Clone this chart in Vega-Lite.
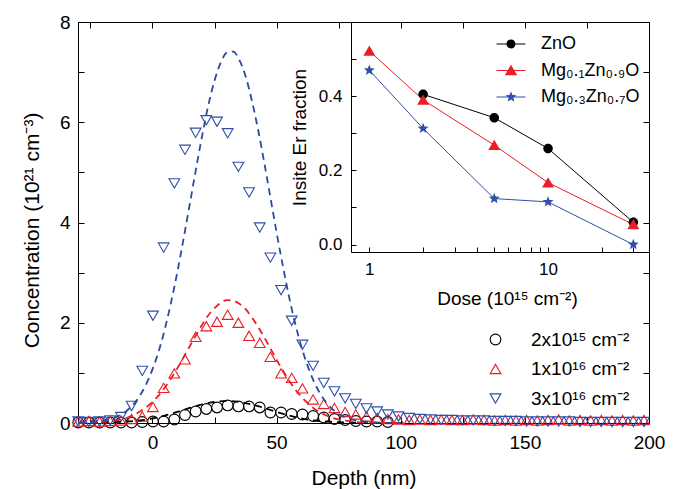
{
  "$schema": "https://vega.github.io/schema/vega-lite/v6.json",
  "width": 571,
  "height": 401,
  "autosize": {"type": "none"},
  "padding": {"left": 78, "top": 22, "right": 32, "bottom": 66},
  "config": {
    "font": "Liberation Sans",
    "view": {"stroke": "black", "strokeWidth": 1},
    "axis": {"grid": false, "domainColor": "black", "tickColor": "black", "labelColor": "black", "titleColor": "black", "titleFontWeight": "normal", "domainWidth": 1, "tickWidth": 1, "labelFont": "Liberation Sans", "titleFont": "Liberation Sans"},
    "legend": {"labelColor": "black", "labelFont": "Liberation Sans"}
  },
  "datasets": {
    "pts": [
      {"d": -29.9, "c": 0.01, "s": "2e15"}, {"d": -25.6, "c": 0.01, "s": "2e15"}, {"d": -21.3, "c": 0.01, "s": "2e15"}, {"d": -17.0, "c": 0.01, "s": "2e15"}, {"d": -12.7, "c": 0.01, "s": "2e15"}, {"d": -8.4, "c": 0.01, "s": "2e15"}, {"d": -4.1, "c": 0.02, "s": "2e15"}, {"d": 0.2, "c": 0.03, "s": "2e15"}, {"d": 4.5, "c": 0.03, "s": "2e15"}, {"d": 8.8, "c": 0.07, "s": "2e15"}, {"d": 13.1, "c": 0.16, "s": "2e15"}, {"d": 17.4, "c": 0.23, "s": "2e15"}, {"d": 21.7, "c": 0.28, "s": "2e15"}, {"d": 26.0, "c": 0.31, "s": "2e15"}, {"d": 30.3, "c": 0.35, "s": "2e15"}, {"d": 34.6, "c": 0.33, "s": "2e15"}, {"d": 38.9, "c": 0.33, "s": "2e15"}, {"d": 43.2, "c": 0.31, "s": "2e15"}, {"d": 47.5, "c": 0.21, "s": "2e15"}, {"d": 51.8, "c": 0.21, "s": "2e15"}, {"d": 56.1, "c": 0.18, "s": "2e15"}, {"d": 60.4, "c": 0.17, "s": "2e15"}, {"d": 64.7, "c": 0.14, "s": "2e15"}, {"d": 69.0, "c": 0.11, "s": "2e15"}, {"d": 73.3, "c": 0.08, "s": "2e15"}, {"d": 77.6, "c": 0.06, "s": "2e15"}, {"d": 81.9, "c": 0.04, "s": "2e15"}, {"d": 86.2, "c": 0.03, "s": "2e15"}, {"d": 90.5, "c": 0.03, "s": "2e15"}, {"d": 94.8, "c": 0.02, "s": "2e15"},
      {"d": -29.9, "c": 0.03, "s": "1e16"}, {"d": -25.6, "c": 0.04, "s": "1e16"}, {"d": -21.3, "c": 0.03, "s": "1e16"}, {"d": -17.0, "c": 0.04, "s": "1e16"}, {"d": -12.7, "c": 0.05, "s": "1e16"}, {"d": -8.4, "c": 0.08, "s": "1e16"}, {"d": -4.1, "c": 0.13, "s": "1e16"}, {"d": 0.2, "c": 0.32, "s": "1e16"}, {"d": 4.5, "c": 0.70, "s": "1e16"}, {"d": 8.8, "c": 0.99, "s": "1e16"}, {"d": 13.1, "c": 1.27, "s": "1e16"}, {"d": 17.4, "c": 1.72, "s": "1e16"}, {"d": 21.7, "c": 1.93, "s": "1e16"}, {"d": 26.0, "c": 2.02, "s": "1e16"}, {"d": 30.3, "c": 2.16, "s": "1e16"}, {"d": 34.6, "c": 2.00, "s": "1e16"}, {"d": 38.9, "c": 1.74, "s": "1e16"}, {"d": 43.2, "c": 1.60, "s": "1e16"}, {"d": 47.5, "c": 1.32, "s": "1e16"}, {"d": 51.8, "c": 0.99, "s": "1e16"}, {"d": 56.1, "c": 0.90, "s": "1e16"}, {"d": 60.4, "c": 0.69, "s": "1e16"}, {"d": 64.7, "c": 0.47, "s": "1e16"}, {"d": 69.0, "c": 0.38, "s": "1e16"}, {"d": 73.3, "c": 0.30, "s": "1e16"}, {"d": 77.6, "c": 0.22, "s": "1e16"}, {"d": 81.9, "c": 0.17, "s": "1e16"}, {"d": 86.2, "c": 0.13, "s": "1e16"}, {"d": 90.5, "c": 0.10, "s": "1e16"}, {"d": 94.8, "c": 0.08, "s": "1e16"}, {"d": 99.1, "c": 0.07, "s": "1e16"}, {"d": 103.4, "c": 0.06, "s": "1e16"}, {"d": 107.7, "c": 0.07, "s": "1e16"}, {"d": 112.0, "c": 0.06, "s": "1e16"}, {"d": 116.3, "c": 0.07, "s": "1e16"}, {"d": 120.6, "c": 0.06, "s": "1e16"}, {"d": 124.9, "c": 0.06, "s": "1e16"}, {"d": 129.2, "c": 0.07, "s": "1e16"}, {"d": 133.5, "c": 0.06, "s": "1e16"}, {"d": 137.8, "c": 0.05, "s": "1e16"}, {"d": 142.1, "c": 0.06, "s": "1e16"}, {"d": 146.4, "c": 0.05, "s": "1e16"}, {"d": 150.7, "c": 0.06, "s": "1e16"}, {"d": 155.0, "c": 0.05, "s": "1e16"}, {"d": 159.3, "c": 0.06, "s": "1e16"}, {"d": 163.6, "c": 0.07, "s": "1e16"}, {"d": 167.9, "c": 0.05, "s": "1e16"}, {"d": 172.2, "c": 0.06, "s": "1e16"}, {"d": 176.5, "c": 0.05, "s": "1e16"}, {"d": 180.8, "c": 0.06, "s": "1e16"}, {"d": 185.1, "c": 0.05, "s": "1e16"}, {"d": 189.4, "c": 0.06, "s": "1e16"}, {"d": 193.7, "c": 0.05, "s": "1e16"}, {"d": 198.0, "c": 0.06, "s": "1e16"},
      {"d": -29.9, "c": 0.03, "s": "3e16"}, {"d": -25.6, "c": 0.02, "s": "3e16"}, {"d": -21.3, "c": 0.03, "s": "3e16"}, {"d": -17.0, "c": 0.05, "s": "3e16"}, {"d": -12.7, "c": 0.12, "s": "3e16"}, {"d": -8.4, "c": 0.34, "s": "3e16"}, {"d": -4.1, "c": 1.04, "s": "3e16"}, {"d": 0.2, "c": 2.14, "s": "3e16"}, {"d": 4.5, "c": 3.50, "s": "3e16"}, {"d": 8.8, "c": 4.78, "s": "3e16"}, {"d": 13.1, "c": 5.45, "s": "3e16"}, {"d": 17.4, "c": 5.79, "s": "3e16"}, {"d": 21.7, "c": 6.04, "s": "3e16"}, {"d": 26.0, "c": 6.01, "s": "3e16"}, {"d": 30.3, "c": 5.78, "s": "3e16"}, {"d": 34.6, "c": 5.11, "s": "3e16"}, {"d": 38.9, "c": 4.60, "s": "3e16"}, {"d": 43.2, "c": 3.90, "s": "3e16"}, {"d": 47.5, "c": 3.30, "s": "3e16"}, {"d": 51.8, "c": 2.65, "s": "3e16"}, {"d": 56.1, "c": 2.04, "s": "3e16"}, {"d": 60.4, "c": 1.56, "s": "3e16"}, {"d": 64.7, "c": 1.14, "s": "3e16"}, {"d": 69.0, "c": 0.80, "s": "3e16"}, {"d": 73.3, "c": 0.63, "s": "3e16"}, {"d": 77.6, "c": 0.49, "s": "3e16"}, {"d": 81.9, "c": 0.38, "s": "3e16"}, {"d": 86.2, "c": 0.29, "s": "3e16"}, {"d": 90.5, "c": 0.23, "s": "3e16"}, {"d": 94.8, "c": 0.17, "s": "3e16"}, {"d": 99.1, "c": 0.13, "s": "3e16"}, {"d": 103.4, "c": 0.10, "s": "3e16"}, {"d": 107.7, "c": 0.08, "s": "3e16"}, {"d": 112.0, "c": 0.07, "s": "3e16"}, {"d": 116.3, "c": 0.06, "s": "3e16"}, {"d": 120.6, "c": 0.06, "s": "3e16"}, {"d": 124.9, "c": 0.05, "s": "3e16"}, {"d": 129.2, "c": 0.05, "s": "3e16"}, {"d": 133.5, "c": 0.05, "s": "3e16"}, {"d": 137.8, "c": 0.04, "s": "3e16"}, {"d": 142.1, "c": 0.04, "s": "3e16"}, {"d": 146.4, "c": 0.04, "s": "3e16"}, {"d": 150.7, "c": 0.03, "s": "3e16"}, {"d": 155.0, "c": 0.03, "s": "3e16"}, {"d": 159.3, "c": 0.03, "s": "3e16"}, {"d": 163.6, "c": 0.03, "s": "3e16"}, {"d": 167.9, "c": 0.03, "s": "3e16"}, {"d": 172.2, "c": 0.02, "s": "3e16"}, {"d": 176.5, "c": 0.02, "s": "3e16"}, {"d": 180.8, "c": 0.02, "s": "3e16"}, {"d": 185.1, "c": 0.02, "s": "3e16"}, {"d": 189.4, "c": 0.02, "s": "3e16"}, {"d": 193.7, "c": 0.02, "s": "3e16"}, {"d": 198.0, "c": 0.02, "s": "3e16"}
    ],
    "fit": [
      {"d": -30, "c": 0.0, "s": "2e15"}, {"d": -20, "c": 0.01, "s": "2e15"}, {"d": -10, "c": 0.03, "s": "2e15"}, {"d": -5, "c": 0.05, "s": "2e15"}, {"d": 0, "c": 0.09, "s": "2e15"}, {"d": 5, "c": 0.15, "s": "2e15"}, {"d": 10, "c": 0.22, "s": "2e15"}, {"d": 15, "c": 0.30, "s": "2e15"}, {"d": 20, "c": 0.37, "s": "2e15"}, {"d": 25, "c": 0.42, "s": "2e15"}, {"d": 30, "c": 0.44, "s": "2e15"}, {"d": 35, "c": 0.42, "s": "2e15"}, {"d": 40, "c": 0.37, "s": "2e15"}, {"d": 45, "c": 0.30, "s": "2e15"}, {"d": 50, "c": 0.22, "s": "2e15"}, {"d": 55, "c": 0.15, "s": "2e15"}, {"d": 60, "c": 0.09, "s": "2e15"}, {"d": 65, "c": 0.05, "s": "2e15"}, {"d": 70, "c": 0.03, "s": "2e15"}, {"d": 80, "c": 0.01, "s": "2e15"}, {"d": 100, "c": 0.0, "s": "2e15"},
      {"d": -30, "c": 0.0, "s": "1e16"}, {"d": -20, "c": 0.02, "s": "1e16"}, {"d": -15, "c": 0.05, "s": "1e16"}, {"d": -10, "c": 0.11, "s": "1e16"}, {"d": -5, "c": 0.23, "s": "1e16"}, {"d": 0, "c": 0.42, "s": "1e16"}, {"d": 2.5, "c": 0.55, "s": "1e16"}, {"d": 5, "c": 0.71, "s": "1e16"}, {"d": 7.5, "c": 0.89, "s": "1e16"}, {"d": 10, "c": 1.09, "s": "1e16"}, {"d": 12.5, "c": 1.31, "s": "1e16"}, {"d": 15, "c": 1.53, "s": "1e16"}, {"d": 17.5, "c": 1.75, "s": "1e16"}, {"d": 20, "c": 1.96, "s": "1e16"}, {"d": 22.5, "c": 2.15, "s": "1e16"}, {"d": 25, "c": 2.29, "s": "1e16"}, {"d": 27.5, "c": 2.40, "s": "1e16"}, {"d": 30, "c": 2.45, "s": "1e16"}, {"d": 32.5, "c": 2.44, "s": "1e16"}, {"d": 35, "c": 2.38, "s": "1e16"}, {"d": 37.5, "c": 2.27, "s": "1e16"}, {"d": 40, "c": 2.11, "s": "1e16"}, {"d": 42.5, "c": 1.92, "s": "1e16"}, {"d": 45, "c": 1.71, "s": "1e16"}, {"d": 47.5, "c": 1.49, "s": "1e16"}, {"d": 50, "c": 1.26, "s": "1e16"}, {"d": 52.5, "c": 1.05, "s": "1e16"}, {"d": 55, "c": 0.85, "s": "1e16"}, {"d": 57.5, "c": 0.67, "s": "1e16"}, {"d": 60, "c": 0.52, "s": "1e16"}, {"d": 62.5, "c": 0.40, "s": "1e16"}, {"d": 65, "c": 0.29, "s": "1e16"}, {"d": 70, "c": 0.15, "s": "1e16"}, {"d": 75, "c": 0.07, "s": "1e16"}, {"d": 80, "c": 0.03, "s": "1e16"}, {"d": 85, "c": 0.01, "s": "1e16"}, {"d": 100, "c": 0.0, "s": "1e16"},
      {"d": -30, "c": 0.01, "s": "3e16"}, {"d": -20, "c": 0.04, "s": "3e16"}, {"d": -15, "c": 0.11, "s": "3e16"}, {"d": -10, "c": 0.26, "s": "3e16"}, {"d": -5, "c": 0.55, "s": "3e16"}, {"d": 0, "c": 1.07, "s": "3e16"}, {"d": 2.5, "c": 1.43, "s": "3e16"}, {"d": 5, "c": 1.88, "s": "3e16"}, {"d": 7.5, "c": 2.41, "s": "3e16"}, {"d": 10, "c": 3.01, "s": "3e16"}, {"d": 12.5, "c": 3.67, "s": "3e16"}, {"d": 15, "c": 4.36, "s": "3e16"}, {"d": 17.5, "c": 5.06, "s": "3e16"}, {"d": 20, "c": 5.73, "s": "3e16"}, {"d": 22.5, "c": 6.34, "s": "3e16"}, {"d": 25, "c": 6.83, "s": "3e16"}, {"d": 27.5, "c": 7.19, "s": "3e16"}, {"d": 30, "c": 7.39, "s": "3e16"}, {"d": 32.5, "c": 7.41, "s": "3e16"}, {"d": 35, "c": 7.24, "s": "3e16"}, {"d": 37.5, "c": 6.92, "s": "3e16"}, {"d": 40, "c": 6.44, "s": "3e16"}, {"d": 42.5, "c": 5.86, "s": "3e16"}, {"d": 45, "c": 5.20, "s": "3e16"}, {"d": 47.5, "c": 4.50, "s": "3e16"}, {"d": 50, "c": 3.80, "s": "3e16"}, {"d": 52.5, "c": 3.14, "s": "3e16"}, {"d": 55, "c": 2.52, "s": "3e16"}, {"d": 57.5, "c": 1.98, "s": "3e16"}, {"d": 60, "c": 1.52, "s": "3e16"}, {"d": 62.5, "c": 1.14, "s": "3e16"}, {"d": 65, "c": 0.83, "s": "3e16"}, {"d": 67.5, "c": 0.59, "s": "3e16"}, {"d": 70, "c": 0.41, "s": "3e16"}, {"d": 75, "c": 0.18, "s": "3e16"}, {"d": 80, "c": 0.075, "s": "3e16"}, {"d": 85, "c": 0.03, "s": "3e16"}, {"d": 90, "c": 0.01, "s": "3e16"}, {"d": 100, "c": 0.0, "s": "3e16"}
    ],
    "ins": [
      {"dose": 2, "f": 0.405, "m": "ZnO"}, {"dose": 5, "f": 0.342, "m": "ZnO"}, {"dose": 10, "f": 0.259, "m": "ZnO"}, {"dose": 30, "f": 0.060, "m": "ZnO"},
      {"dose": 1, "f": 0.522, "m": "Mg0.1"}, {"dose": 2, "f": 0.390, "m": "Mg0.1"}, {"dose": 5, "f": 0.268, "m": "Mg0.1"}, {"dose": 10, "f": 0.167, "m": "Mg0.1"}, {"dose": 30, "f": 0.054, "m": "Mg0.1"},
      {"dose": 1, "f": 0.470, "m": "Mg0.3"}, {"dose": 2, "f": 0.313, "m": "Mg0.3"}, {"dose": 5, "f": 0.124, "m": "Mg0.3"}, {"dose": 10, "f": 0.115, "m": "Mg0.3"}, {"dose": 30, "f": 0.0, "m": "Mg0.3"}
    ]
  },
  "layer": [
    {
      "layer": [
        {
          "data": {"name": "pts"},
          "mark": {"type": "point", "filled": false, "size": 115, "strokeWidth": 1.1, "opacity": 1},
          "encoding": {
            "x": {"field": "d", "type": "quantitative", "scale": {"domain": [-30, 200], "nice": false, "zero": false},
              "axis": {"orient": "bottom", "values": [-25, 0, 25, 50, 75, 100, 125, 150, 175, 200], "labelExpr": "datum.value % 50 === 0 ? datum.label : ''", "tickSize": -6, "labelFontSize": 19, "labelPadding": 16, "labelFlush": false, "labelOverlap": false, "title": "Depth (nm)", "titleFontSize": 21, "titleY": 61, "titleBaseline": "alphabetic"}},
            "y": {"field": "c", "type": "quantitative", "scale": {"domain": [0, 8], "nice": false},
              "axis": {"orient": "left", "values": [0, 1, 2, 3, 4, 5, 6, 7, 8], "labelExpr": "datum.value % 2 === 0 ? datum.label : ''", "tickSize": -6, "labelFontSize": 19, "labelPadding": 14, "labelFlush": false, "labelOverlap": false, "title": "Concentration (10²¹ cm⁻³)", "titleFontSize": 21, "titleX": -40, "titleY": 208, "titleBaseline": "alphabetic"}},
            "color": {"field": "s", "type": "nominal", "sort": ["2e15", "1e16", "3e16"], "scale": {"domain": ["2e15", "1e16", "3e16"], "range": ["#000000", "#ee1c25", "#2f4fa8"]},
              "legend": {"orient": "none", "legendX": 408, "legendY": 308, "title": null, "padding": 0, "labelFontSize": 19, "symbolSize": 115, "symbolStrokeWidth": 1.1, "labelOffset": 26, "rowPadding": 9.5, "labelExpr": "datum.value === '2e15' ? '2x10¹⁵ cm⁻²' : datum.value === '1e16' ? '1x10¹⁶ cm⁻²' : '3x10¹⁶ cm⁻²'"}},
            "shape": {"field": "s", "type": "nominal", "sort": ["2e15", "1e16", "3e16"], "scale": {"domain": ["2e15", "1e16", "3e16"], "range": ["circle", "triangle-up", "triangle-down"]},
              "legend": {"orient": "none", "legendX": 408, "legendY": 308, "title": null, "padding": 0, "labelFontSize": 19, "symbolSize": 115, "symbolStrokeWidth": 1.1, "labelOffset": 26, "rowPadding": 9.5, "labelExpr": "datum.value === '2e15' ? '2x10¹⁵ cm⁻²' : datum.value === '1e16' ? '1x10¹⁶ cm⁻²' : '3x10¹⁶ cm⁻²'"}}
          }
        },
        {
          "data": {"name": "fit"},
          "mark": {"type": "line", "strokeDash": [7, 5], "strokeWidth": 1.8, "interpolate": "monotone"},
          "encoding": {
            "x": {"field": "d", "type": "quantitative", "scale": {"domain": [-30, 200], "nice": false, "zero": false},
              "axis": {"orient": "top", "values": [-25, 0, 25, 50, 75, 100, 125, 150, 175, 200], "labels": false, "tickSize": -6, "title": null}},
            "y": {"field": "c", "type": "quantitative", "scale": {"domain": [0, 8], "nice": false},
              "axis": {"orient": "right", "values": [0, 1, 2, 3, 4, 5, 6, 7, 8], "labels": false, "tickSize": -6, "title": null}},
            "stroke": {"field": "s", "type": "nominal", "scale": {"domain": ["2e15", "1e16", "3e16"], "range": ["#000000", "#ee1c25", "#2b4aa0"]}, "legend": null}
          }
        }
      ],
      "resolve": {"axis": {"x": "independent", "y": "independent"}}
    },
    {
      "data": {"name": "ins"},
      "encoding": {
        "x": {"field": "dose", "type": "quantitative", "scale": {"type": "log", "domain": [0.79, 36.7], "range": [273, 571], "nice": false},
          "axis": {"orient": "bottom", "offset": -171, "values": [1, 2, 3, 4, 5, 6, 7, 8, 9, 10, 20, 30], "labelExpr": "datum.value === 1 ? '1' : datum.value === 10 ? '10' : ''", "tickSize": -5, "labelFontSize": 17, "labelPadding": 14, "labelFlush": false, "labelOverlap": false, "title": "Dose (10¹⁵ cm⁻²)", "titleFontSize": 19, "titleX": 429, "titleY": 52, "titleBaseline": "alphabetic"}},
        "y": {"field": "f", "type": "quantitative", "scale": {"domain": [-0.02, 0.6], "range": [230, 0], "nice": false, "zero": false},
          "axis": {"orient": "left", "offset": -273, "values": [0, 0.1, 0.2, 0.3, 0.4, 0.5], "format": ".1f", "labelExpr": "round(datum.value * 10) % 2 === 0 ? datum.label : ''", "tickSize": -5, "labelFontSize": 17, "labelPadding": 14, "labelFlush": false, "labelOverlap": false, "title": "Insite Er fraction", "titleFontSize": 19, "titleX": -46, "titleBaseline": "alphabetic"}},
        "color": {"field": "m", "type": "nominal", "sort": ["ZnO", "Mg0.1", "Mg0.3"], "scale": {"domain": ["ZnO", "Mg0.1", "Mg0.3"], "range": ["#000000", "#ee1c25", "#2f4fa8"]},
          "legend": {"orient": "none", "legendX": 424, "legendY": 13, "title": null, "padding": 0, "labelFontSize": 18, "symbolSize": 100, "symbolOpacity": 1, "symbolStrokeWidth": 0, "labelOffset": 21, "rowPadding": 8.5, "labelExpr": "datum.value === 'ZnO' ? 'ZnO' : datum.value === 'Mg0.1' ? 'Mg₀.₁Zn₀.₉O' : 'Mg₀.₃Zn₀.₇O'"}}
      },
      "layer": [
        {
          "mark": {"type": "line", "strokeWidth": 1}
        },
        {
          "mark": {"type": "point", "filled": true, "opacity": 0, "size": 100},
          "encoding": {
            "shape": {"field": "m", "type": "nominal", "sort": ["ZnO", "Mg0.1", "Mg0.3"], "scale": {"domain": ["ZnO", "Mg0.1", "Mg0.3"], "range": [
                "M-2.9,-0.1H-0.88V0.1H-2.9ZM0.88,-0.1H2.9V0.1H0.88ZM0.9,0A0.9,0.9,0,1,1,-0.9,0A0.9,0.9,0,1,1,0.9,0Z",
                "M-2.9,-0.1H-0.66V0.1H-2.9ZM0.66,-0.1H2.9V0.1H0.66ZM0,-1.15L1.25,0.95L-1.25,0.95Z",
                "M-2.9,-0.1H-0.64V0.1H-2.9ZM0.64,-0.1H2.9V0.1H0.64ZM0,-1.15L0.29,-0.4L1.1,-0.36L0.47,0.15L0.68,0.93L0,0.48L-0.68,0.93L-0.47,0.15L-1.1,-0.36L-0.29,-0.4Z"]},
              "legend": {"orient": "none", "legendX": 424, "legendY": 13, "title": null, "padding": 0, "labelFontSize": 18, "symbolSize": 100, "symbolOpacity": 1, "symbolStrokeWidth": 0, "labelOffset": 21, "rowPadding": 8.5, "labelExpr": "datum.value === 'ZnO' ? 'ZnO' : datum.value === 'Mg0.1' ? 'Mg₀.₁Zn₀.₉O' : 'Mg₀.₃Zn₀.₇O'"}}
          }
        },
        {
          "transform": [{"filter": "datum.m === 'ZnO'"}],
          "mark": {"type": "point", "filled": true, "opacity": 1, "size": 100, "shape": "M0.95,0A0.95,0.95,0,1,1,-0.95,0A0.95,0.95,0,1,1,0.95,0Z"}
        },
        {
          "transform": [{"filter": "datum.m === 'Mg0.1'"}],
          "mark": {"type": "point", "filled": true, "opacity": 1, "size": 100, "shape": "M0,-1.1L1.2,0.95L-1.2,0.95Z"}
        },
        {
          "transform": [{"filter": "datum.m === 'Mg0.3'"}],
          "mark": {"type": "point", "filled": true, "opacity": 1, "size": 100, "shape": "M0,-1.15L0.29,-0.4L1.1,-0.36L0.47,0.15L0.68,0.93L0,0.48L-0.68,0.93L-0.47,0.15L-1.1,-0.36L-0.29,-0.4Z"}
        }
      ]
    }
  ],
  "resolve": {"scale": {"x": "independent", "y": "independent", "color": "independent", "shape": "independent", "stroke": "independent"}}
}
